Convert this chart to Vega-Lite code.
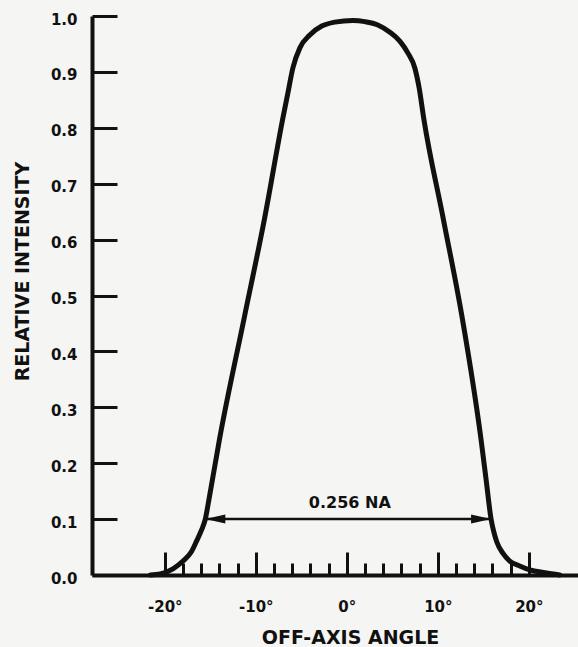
{
  "$schema": "https://vega.github.io/schema/vega-lite/v6.json",
  "width": 486,
  "height": 559,
  "autosize": {"type": "none"},
  "padding": {"left": 92, "top": 16, "right": 0, "bottom": 72},
  "background": "#f5f5f3",
  "config": {
    "view": {"stroke": null},
    "font": "DejaVu Sans",
    "axis": {
      "domainColor": "#111",
      "tickColor": "#111",
      "labelColor": "#111",
      "titleColor": "#111",
      "labelFont": "DejaVu Sans",
      "titleFont": "DejaVu Sans",
      "labelFontWeight": "bold",
      "titleFontWeight": "bold",
      "labelFontSize": 15,
      "titleFontSize": 19,
      "grid": false,
      "labelOverlap": false,
      "labelFlush": false
    }
  },
  "datasets": {
    "curve": [
      {"angle": -21.6, "intensity": 0.0},
      {"angle": -20.5, "intensity": 0.002},
      {"angle": -19.1, "intensity": 0.011},
      {"angle": -18.0, "intensity": 0.025},
      {"angle": -17.1, "intensity": 0.041},
      {"angle": -16.5, "intensity": 0.061},
      {"angle": -15.95, "intensity": 0.081},
      {"angle": -15.55, "intensity": 0.1},
      {"angle": -15.15, "intensity": 0.135},
      {"angle": -14.0, "intensity": 0.242},
      {"angle": -11.3, "intensity": 0.458},
      {"angle": -9.05, "intensity": 0.637},
      {"angle": -7.03, "intensity": 0.817},
      {"angle": -6.48, "intensity": 0.862},
      {"angle": -5.93, "intensity": 0.907},
      {"angle": -5.16, "intensity": 0.943},
      {"angle": -4.07, "intensity": 0.966},
      {"angle": -2.75, "intensity": 0.982},
      {"angle": -1.32, "intensity": 0.989},
      {"angle": 0.66, "intensity": 0.992},
      {"angle": 1.98, "intensity": 0.99},
      {"angle": 3.41, "intensity": 0.984},
      {"angle": 4.73, "intensity": 0.971},
      {"angle": 5.82, "intensity": 0.955},
      {"angle": 6.7, "intensity": 0.934},
      {"angle": 7.47, "intensity": 0.907},
      {"angle": 7.95, "intensity": 0.871},
      {"angle": 8.45, "intensity": 0.817},
      {"angle": 10.6, "intensity": 0.637},
      {"angle": 12.7, "intensity": 0.458},
      {"angle": 14.75, "intensity": 0.242},
      {"angle": 15.3, "intensity": 0.171},
      {"angle": 15.85, "intensity": 0.1},
      {"angle": 16.15, "intensity": 0.077},
      {"angle": 16.48, "intensity": 0.059},
      {"angle": 17.14, "intensity": 0.039},
      {"angle": 17.9, "intensity": 0.025},
      {"angle": 19.0, "intensity": 0.016},
      {"angle": 20.1, "intensity": 0.009},
      {"angle": 21.8, "intensity": 0.004},
      {"angle": 23.4, "intensity": 0.0}
    ],
    "span": [{"from": -15.55, "to": 15.85, "level": 0.1}],
    "heads": [
      {"angle": -15.55, "level": 0.1, "dir": "left"},
      {"angle": 15.85, "level": 0.1, "dir": "right"}
    ],
    "note": [{"angle": 0.33, "level": 0.129, "label": "0.256 NA"}]
  },
  "layer": [
    {
      "data": {"name": "curve"},
      "mark": {"type": "line", "color": "#111", "strokeWidth": 5, "interpolate": "monotone", "strokeCap": "round"},
      "encoding": {
        "x": {
          "field": "angle",
          "type": "quantitative",
          "scale": {"domain": [-28, 25.4], "nice": false, "zero": false},
          "axis": {
            "values": [-20, -18, -16, -14, -12, -10, -8, -6, -4, -2, 0, 2, 4, 6, 8, 10, 12, 14, 16, 18, 20],
            "tickCount": 40,
            "domainWidth": 4,
            "tickWidth": 3,
            "tickSize": {"condition": {"test": "abs(datum.value) === 10 || abs(datum.value) === 20 || datum.value === 0", "value": -23}, "value": -12},
            "labelExpr": "(abs(datum.value) === 10 || abs(datum.value) === 20 || datum.value === 0) ? datum.value + '°' : ''",
            "labelPadding": 47,
            "labelBaseline": "top",
            "title": "OFF-AXIS ANGLE",
            "titleX": 258,
            "titleY": 62,
            "titleBaseline": "middle",
            "titleAnchor": null
          }
        },
        "y": {
          "field": "intensity",
          "type": "quantitative",
          "scale": {"domain": [0, 1], "nice": false},
          "axis": {
            "values": [0, 0.1, 0.2, 0.3, 0.4, 0.5, 0.6, 0.7, 0.8, 0.9, 1.0],
            "tickCount": 20,
            "format": ".1f",
            "domainWidth": 4,
            "tickWidth": 3,
            "tickSize": -25,
            "labelPadding": 40,
            "labelOffset": 3,
            "title": "RELATIVE INTENSITY",
            "titleX": -70,
            "titleY": 255,
            "titleAngle": 270,
            "titleAlign": "center",
            "titleBaseline": "middle"
          }
        }
      }
    },
    {
      "data": {"name": "span"},
      "mark": {"type": "rule", "color": "#111", "strokeWidth": 2.5},
      "encoding": {
        "x": {"field": "from", "type": "quantitative"},
        "x2": {"field": "to"},
        "y": {"field": "level", "type": "quantitative"}
      }
    },
    {
      "data": {"name": "heads"},
      "mark": {"type": "point", "filled": true, "color": "#111", "opacity": 1, "size": 400},
      "encoding": {
        "x": {"field": "angle", "type": "quantitative"},
        "y": {"field": "level", "type": "quantitative"},
        "shape": {
          "field": "dir",
          "type": "nominal",
          "scale": {"domain": ["left", "right"], "range": ["M0,0L2,-0.45L2,0.45Z", "M0,0L-2,-0.45L-2,0.45Z"]},
          "legend": null
        }
      }
    },
    {
      "data": {"name": "note"},
      "mark": {"type": "text", "color": "#111", "font": "DejaVu Sans", "fontWeight": "bold", "fontSize": 16, "align": "center", "baseline": "middle"},
      "encoding": {
        "x": {"field": "angle", "type": "quantitative"},
        "y": {"field": "level", "type": "quantitative"},
        "text": {"field": "label"}
      }
    }
  ]
}
